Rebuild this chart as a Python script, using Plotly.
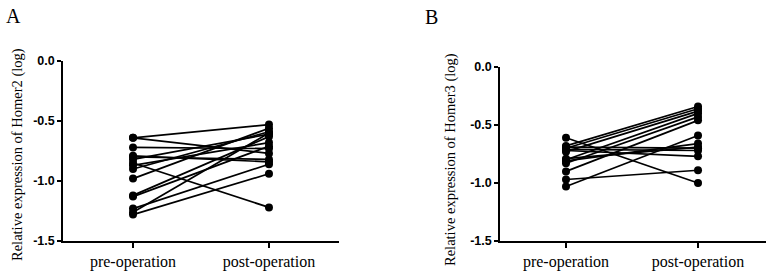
import plotly.graph_objects as go

categories = ["pre-operation", "post-operation"]

# Panel A: Homer2 (pre, post) per subject
homer2_pre = [-0.64, -0.64, -0.72, -0.79, -0.82, -0.85, -0.87, -0.90, -0.98, -1.12, -1.13, -1.23, -1.26, -1.28, -0.80]
homer2_post = [-0.53, -0.77, -0.73, -0.84, -0.61, -1.22, -0.68, -0.59, -0.56, -0.63, -0.71, -0.86, -0.60, -0.94, -0.82]

# Panel B: Homer3 (pre, post) per subject
homer3_pre = [-0.61, -0.68, -0.69, -0.70, -0.71, -0.72, -0.73, -0.80, -0.81, -0.83, -0.90, -0.97, -1.03, -0.79]
homer3_post = [-1.00, -0.34, -0.70, -0.36, -0.72, -0.77, -0.38, -0.40, -0.66, -0.43, -0.46, -0.89, -0.59, -0.69]

y_ticks = [0.0, -0.5, -1.0, -1.5]
y_ticktext = ["0.0", "-0.5", "-1.0", "-1.5"]

SERIF = "Liberation Serif"
SANS = "Liberation Sans"

fig = go.Figure()

def add_panel(pre, post, xa, ya):
    for a, b in zip(pre, post):
        fig.add_trace(go.Scatter(
            x=categories, y=[a, b], mode="lines+markers",
            line=dict(color="black", width=1.7),
            marker=dict(color="black", size=8),
            xaxis=xa, yaxis=ya, showlegend=False, cliponaxis=False,
            hoverinfo="y"))

add_panel(homer2_pre, homer2_post, "x", "y")
add_panel(homer3_pre, homer3_post, "x2", "y2")

H = 278.0
W = 773.0

xcommon = dict(type="category", showline=True, linecolor="black", linewidth=1.5,
               ticks="outside", ticklen=5, tickwidth=1.5, tickcolor="black",
               showgrid=False, zeroline=False, automargin=False,
               tickfont=dict(family=SERIF, size=16, color="black"))
ycommon = dict(showline=True, linecolor="black", linewidth=1.5,
               ticks="outside", ticklen=4, tickwidth=1.5, tickcolor="black",
               showgrid=False, zeroline=False, automargin=False,
               tickvals=y_ticks, ticktext=y_ticktext,
               tickfont=dict(family=SANS, size=12.5, color="black", weight="bold"),
               range=[-1.5, 0.0])

fig.update_layout(
    template="none",
    width=773, height=278, autosize=False,
    margin=dict(l=0, r=0, t=0, b=0, pad=0),
    paper_bgcolor="white", plot_bgcolor="white",
    xaxis=dict(xcommon, domain=[63 / W, 339 / W], range=[-0.515, 1.515], anchor="y"),
    yaxis=dict(ycommon, domain=[(H - 241) / H, (H - 61) / H], anchor="x"),
    xaxis2=dict(xcommon, domain=[500 / W, 766 / W], range=[-0.5, 1.515], anchor="y2"),
    yaxis2=dict(ycommon, domain=[(H - 241) / H, (H - 67) / H], anchor="x2"),
    annotations=[
        dict(text="A", x=4 / W, y=1 - 3 / H, xref="paper", yref="paper", xanchor="left", yanchor="top",
             showarrow=False, font=dict(family=SERIF, size=20, color="black")),
        dict(text="B", x=423 / W, y=1 - 4 / H, xref="paper", yref="paper", xanchor="left", yanchor="top",
             showarrow=False, font=dict(family=SERIF, size=20, color="black")),
        dict(text="Relative expression of Homer2 (log)", x=17 / W, y=1 - 155 / H, xref="paper", yref="paper",
             xanchor="center", yanchor="middle", textangle=-90, showarrow=False,
             font=dict(family=SERIF, size=14.5, color="black")),
        dict(text="Relative expression of Homer3 (log)", x=450 / W, y=1 - 160 / H, xref="paper", yref="paper",
             xanchor="center", yanchor="middle", textangle=-90, showarrow=False,
             font=dict(family=SERIF, size=14.5, color="black")),
    ],
)

fig.write_html("out.html", config={"displayModeBar": False},
               post_script="document.body.style.margin='0';document.body.style.overflow='hidden';")
